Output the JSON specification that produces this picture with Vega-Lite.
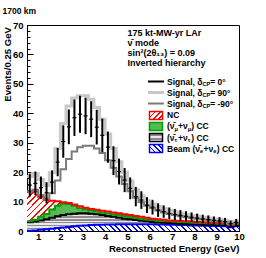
{
"$schema":"https://vega.github.io/schema/vega-lite/v6.json",
"width":212,"height":206,
"autosize":{"type":"none"},
"padding":{"left":27,"top":25,"right":27,"bottom":27},
"background":"#ffffff",
"title":{"text":"1700 km","anchor":"start","font":"Liberation Sans","fontSize":8.5,"fontWeight":"bold","color":"#000","offset":5},
"config":{
 "view":{"stroke":"#000","strokeWidth":1},
 "axis":{"labelFont":"Liberation Sans","labelFontWeight":"bold","labelFontSize":9.5,"labelColor":"#000","titleFont":"Liberation Sans","titleFontWeight":"bold","titleFontSize":9.6,"titleColor":"#000","tickColor":"#000","tickWidth":1,"domain":false,"grid":false},
 "text":{"font":"Liberation Sans","fontWeight":"bold","fontSize":9,"color":"#000","align":"left","baseline":"middle"}
},
"datasets":{
"h":[
{"lo":0.5,"c":0.625,"d_beam":0.1,"c_tau":2.9,"b_numu":0.3,"a_nc":10.1,"s0":15.6,"s90":18.5,"sm90":13.5,"e":3.9},
{"lo":0.75,"c":0.875,"d_beam":0.2,"c_tau":3.0,"b_numu":0.6,"a_nc":9.6,"s0":16.2,"s90":19.5,"sm90":14.0,"e":4.0},
{"lo":1.0,"c":1.125,"d_beam":0.4,"c_tau":3.2,"b_numu":1.2,"a_nc":6.8,"s0":14.7,"s90":17.5,"sm90":12.2,"e":3.8},
{"lo":1.25,"c":1.375,"d_beam":0.6,"c_tau":3.4,"b_numu":1.8,"a_nc":4.8,"s0":13.0,"s90":15.5,"sm90":11.0,"e":3.6},
{"lo":1.5,"c":1.625,"d_beam":0.8,"c_tau":3.7,"b_numu":2.8,"a_nc":3.0,"s0":16.6,"s90":19.8,"sm90":12.8,"e":4.0},
{"lo":1.75,"c":1.875,"d_beam":1.0,"c_tau":4.0,"b_numu":3.6,"a_nc":1.5,"s0":23.4,"s90":28.0,"sm90":17.2,"e":4.8},
{"lo":2.0,"c":2.125,"d_beam":1.2,"c_tau":4.2,"b_numu":3.9,"a_nc":0.5,"s0":30.4,"s90":36.5,"sm90":21.0,"e":5.5},
{"lo":2.25,"c":2.375,"d_beam":1.4,"c_tau":4.3,"b_numu":3.5,"a_nc":0.3,"s0":35.4,"s90":42.5,"sm90":24.5,"e":5.9},
{"lo":2.5,"c":2.625,"d_beam":1.6,"c_tau":4.3,"b_numu":2.7,"a_nc":0.4,"s0":38.5,"s90":45.2,"sm90":27.0,"e":6.2},
{"lo":2.75,"c":2.875,"d_beam":1.8,"c_tau":4.2,"b_numu":1.7,"a_nc":0.7,"s0":39.7,"s90":46.0,"sm90":28.5,"e":6.3},
{"lo":3.0,"c":3.125,"d_beam":1.9,"c_tau":4.1,"b_numu":1.3,"a_nc":0.6,"s0":39.1,"s90":46.0,"sm90":29.0,"e":6.2},
{"lo":3.25,"c":3.375,"d_beam":2.0,"c_tau":3.9,"b_numu":1.1,"a_nc":0.5,"s0":38.0,"s90":44.8,"sm90":29.0,"e":6.1},
{"lo":3.5,"c":3.625,"d_beam":2.1,"c_tau":3.6,"b_numu":1.0,"a_nc":0.5,"s0":35.3,"s90":42.0,"sm90":28.0,"e":5.9},
{"lo":3.75,"c":3.875,"d_beam":2.1,"c_tau":3.3,"b_numu":0.9,"a_nc":0.6,"s0":32.5,"s90":38.0,"sm90":26.5,"e":5.7},
{"lo":4.0,"c":4.125,"d_beam":2.2,"c_tau":2.9,"b_numu":0.9,"a_nc":0.6,"s0":28.5,"s90":33.0,"sm90":24.0,"e":5.3},
{"lo":4.25,"c":4.375,"d_beam":2.2,"c_tau":2.6,"b_numu":0.9,"a_nc":0.6,"s0":23.9,"s90":28.0,"sm90":21.5,"e":4.9},
{"lo":4.5,"c":4.625,"d_beam":2.3,"c_tau":2.2,"b_numu":0.9,"a_nc":0.6,"s0":20.2,"s90":23.5,"sm90":18.5,"e":4.4},
{"lo":4.75,"c":4.875,"d_beam":2.3,"c_tau":1.9,"b_numu":0.9,"a_nc":0.6,"s0":17.3,"s90":20.0,"sm90":16.0,"e":4.1},
{"lo":5.0,"c":5.125,"d_beam":2.3,"c_tau":1.7,"b_numu":0.8,"a_nc":0.6,"s0":14.5,"s90":17.0,"sm90":13.5,"e":3.7},
{"lo":5.25,"c":5.375,"d_beam":2.3,"c_tau":1.4,"b_numu":0.8,"a_nc":0.6,"s0":11.7,"s90":14.0,"sm90":11.3,"e":3.3},
{"lo":5.5,"c":5.625,"d_beam":2.3,"c_tau":1.2,"b_numu":0.7,"a_nc":0.6,"s0":10.5,"s90":12.0,"sm90":9.8,"e":3.0},
{"lo":5.75,"c":5.875,"d_beam":2.3,"c_tau":1.0,"b_numu":0.6,"a_nc":0.6,"s0":8.8,"s90":10.3,"sm90":8.6,"e":2.7},
{"lo":6.0,"c":6.125,"d_beam":2.3,"c_tau":0.8,"b_numu":0.6,"a_nc":0.5,"s0":8.1,"s90":9.2,"sm90":7.7,"e":2.5},
{"lo":6.25,"c":6.375,"d_beam":2.2,"c_tau":0.7,"b_numu":0.6,"a_nc":0.5,"s0":7.1,"s90":8.3,"sm90":7.0,"e":2.3},
{"lo":6.5,"c":6.625,"d_beam":2.2,"c_tau":0.6,"b_numu":0.6,"a_nc":0.4,"s0":6.6,"s90":7.6,"sm90":6.3,"e":2.1},
{"lo":6.75,"c":6.875,"d_beam":2.1,"c_tau":0.6,"b_numu":0.6,"a_nc":0.3,"s0":6.0,"s90":7.0,"sm90":5.8,"e":2.0},
{"lo":7.0,"c":7.125,"d_beam":2.1,"c_tau":0.5,"b_numu":0.6,"a_nc":0.3,"s0":5.6,"s90":6.5,"sm90":5.4,"e":1.9},
{"lo":7.25,"c":7.375,"d_beam":2.0,"c_tau":0.5,"b_numu":0.6,"a_nc":0.3,"s0":5.3,"s90":6.0,"sm90":5.0,"e":1.8},
{"lo":7.5,"c":7.625,"d_beam":2.0,"c_tau":0.4,"b_numu":0.6,"a_nc":0.3,"s0":5.0,"s90":5.6,"sm90":4.7,"e":1.7},
{"lo":7.75,"c":7.875,"d_beam":1.9,"c_tau":0.4,"b_numu":0.6,"a_nc":0.3,"s0":4.7,"s90":5.3,"sm90":4.4,"e":1.6},
{"lo":8.0,"c":8.125,"d_beam":1.9,"c_tau":0.4,"b_numu":0.5,"a_nc":0.3,"s0":4.4,"s90":5.0,"sm90":4.2,"e":1.5},
{"lo":8.25,"c":8.375,"d_beam":1.8,"c_tau":0.4,"b_numu":0.5,"a_nc":0.3,"s0":4.1,"s90":4.7,"sm90":3.9,"e":1.45},
{"lo":8.5,"c":8.625,"d_beam":1.8,"c_tau":0.3,"b_numu":0.5,"a_nc":0.3,"s0":3.9,"s90":4.4,"sm90":3.7,"e":1.4},
{"lo":8.75,"c":8.875,"d_beam":1.7,"c_tau":0.4,"b_numu":0.5,"a_nc":0.2,"s0":3.6,"s90":4.1,"sm90":3.5,"e":1.35},
{"lo":9.0,"c":9.125,"d_beam":1.7,"c_tau":0.3,"b_numu":0.5,"a_nc":0.2,"s0":3.4,"s90":3.9,"sm90":3.3,"e":1.3},
{"lo":9.25,"c":9.375,"d_beam":1.6,"c_tau":0.4,"b_numu":0.5,"a_nc":0.1,"s0":3.2,"s90":3.6,"sm90":3.1,"e":1.25},
{"lo":9.5,"c":9.625,"d_beam":1.3,"c_tau":0.3,"b_numu":0.4,"a_nc":0.1,"s0":2.5,"s90":2.9,"sm90":2.4,"e":1.1},
{"lo":9.75,"c":9.875,"d_beam":1.6,"c_tau":0.3,"b_numu":0.6,"a_nc":0.1,"s0":2.9,"s90":3.3,"sm90":2.8,"e":1.2},
{"lo":10.0,"c":10.125,"d_beam":1.6,"c_tau":0.3,"b_numu":0.6,"a_nc":0.1,"s0":2.9,"s90":3.3,"sm90":2.8,"e":1.2}
],
"tb":[
{"t":"175 kt-MW-yr LAr","y":67.18},
{"t":"ν̄ mode","y":63.78},
{"t":"sin²(2θ₁₃) = 0.09","y":60.38},
{"t":"Inverted hierarchy","y":57.19}
],
"lg":[
{"k":"s0","y":50.8,"tx":6.773,"t":" = 0°"},
{"k":"s90","y":47.06,"tx":6.773,"t":" = 90°"},
{"k":"sm90","y":43.32,"tx":6.773,"t":" = -90°"},
{"k":"nc","y":39.25,"tx":6.773},
{"k":"numu","y":35.51,"tx":6.773,"a":"μ"},
{"k":"tau","y":31.77,"tx":6.773,"a":"τ"},
{"k":"beam","y":28.03,"tx":7.916,"a":"e"}
]
},
"data":{"name":"h"},
"layer":[
{
 "transform":[{"fold":["d_beam","c_tau","b_numu","a_nc"],"as":["comp","v"]}],
 "mark":{"type":"area","interpolate":"step-after","opacity":1},
 "encoding":{
  "x":{"field":"lo","type":"quantitative","scale":{"domain":[0.5,10],"nice":false,"zero":false},
   "axis":{"orient":"bottom","values":[1,2,3,4,5,6,7,8,9,10],"tickSize":-6,"labelPadding":6.5,"labelFlush":false,"labelOverlap":false,"labelBound":false,"title":"Reconstructed Energy (GeV)","titleX":212,"titleY":17.5,"titleAlign":"right","titleAnchor":"end","titleBaseline":"middle"}},
  "y":{"field":"v","type":"quantitative","stack":"zero","scale":{"domain":[0,70],"nice":false,"zero":false},
   "axis":{"orient":"left","values":[0,10,20,30,40,50,60,70],"tickSize":-6,"labelPadding":10,"labelFlush":false,"labelOverlap":false,"labelBound":false,"title":"Events/0.25 GeV","titleX":-19.5,"titleY":1.5,"titleAlign":"right","titleAngle":-90,"titleBaseline":"middle"}},
  "detail":{"field":"comp"},
  "fill":{"condition":[
   {"test":"datum.comp==='a_nc'","value":{"gradient":"linear","x1":0,"y1":0,"x2":1.1298,"y2":0.1785,"stops":[
{"offset":0,"color":"#f00"},{"offset":0.0075,"color":"#f00"},{"offset":0.0075,"color":"#fff"},{"offset":0.025,"color":"#fff"},
{"offset":0.025,"color":"#f00"},{"offset":0.0325,"color":"#f00"},{"offset":0.0325,"color":"#fff"},{"offset":0.05,"color":"#fff"},
{"offset":0.05,"color":"#f00"},{"offset":0.0575,"color":"#f00"},{"offset":0.0575,"color":"#fff"},{"offset":0.075,"color":"#fff"},
{"offset":0.075,"color":"#f00"},{"offset":0.0825,"color":"#f00"},{"offset":0.0825,"color":"#fff"},{"offset":0.1,"color":"#fff"},
{"offset":0.1,"color":"#f00"},{"offset":0.1075,"color":"#f00"},{"offset":0.1075,"color":"#fff"},{"offset":0.125,"color":"#fff"},
{"offset":0.125,"color":"#f00"},{"offset":0.1325,"color":"#f00"},{"offset":0.1325,"color":"#fff"},{"offset":0.15,"color":"#fff"},
{"offset":0.15,"color":"#f00"},{"offset":0.1575,"color":"#f00"},{"offset":0.1575,"color":"#fff"},{"offset":0.175,"color":"#fff"},
{"offset":0.175,"color":"#f00"},{"offset":0.1825,"color":"#f00"},{"offset":0.1825,"color":"#fff"},{"offset":0.2,"color":"#fff"},
{"offset":0.2,"color":"#f00"},{"offset":0.2075,"color":"#f00"},{"offset":0.2075,"color":"#fff"},{"offset":0.225,"color":"#fff"},
{"offset":0.225,"color":"#f00"},{"offset":0.2325,"color":"#f00"},{"offset":0.2325,"color":"#fff"},{"offset":0.25,"color":"#fff"},
{"offset":0.25,"color":"#f00"},{"offset":0.2575,"color":"#f00"},{"offset":0.2575,"color":"#fff"},{"offset":0.275,"color":"#fff"},
{"offset":0.275,"color":"#f00"},{"offset":0.2825,"color":"#f00"},{"offset":0.2825,"color":"#fff"},{"offset":0.3,"color":"#fff"},
{"offset":0.3,"color":"#f00"},{"offset":0.3075,"color":"#f00"},{"offset":0.3075,"color":"#fff"},{"offset":0.325,"color":"#fff"},
{"offset":0.325,"color":"#f00"},{"offset":0.3325,"color":"#f00"},{"offset":0.3325,"color":"#fff"},{"offset":0.35,"color":"#fff"},
{"offset":0.35,"color":"#f00"},{"offset":0.3575,"color":"#f00"},{"offset":0.3575,"color":"#fff"},{"offset":0.375,"color":"#fff"},
{"offset":0.375,"color":"#f00"},{"offset":0.3825,"color":"#f00"},{"offset":0.3825,"color":"#fff"},{"offset":0.4,"color":"#fff"},
{"offset":0.4,"color":"#f00"},{"offset":0.4075,"color":"#f00"},{"offset":0.4075,"color":"#fff"},{"offset":0.425,"color":"#fff"},
{"offset":0.425,"color":"#f00"},{"offset":0.4325,"color":"#f00"},{"offset":0.4325,"color":"#fff"},{"offset":0.45,"color":"#fff"},
{"offset":0.45,"color":"#f00"},{"offset":0.4575,"color":"#f00"},{"offset":0.4575,"color":"#fff"},{"offset":0.475,"color":"#fff"},
{"offset":0.475,"color":"#f00"},{"offset":0.4825,"color":"#f00"},{"offset":0.4825,"color":"#fff"},{"offset":0.5,"color":"#fff"},
{"offset":0.5,"color":"#f00"},{"offset":0.5075,"color":"#f00"},{"offset":0.5075,"color":"#fff"},{"offset":0.525,"color":"#fff"},
{"offset":0.525,"color":"#f00"},{"offset":0.5325,"color":"#f00"},{"offset":0.5325,"color":"#fff"},{"offset":0.55,"color":"#fff"},
{"offset":0.55,"color":"#f00"},{"offset":0.5575,"color":"#f00"},{"offset":0.5575,"color":"#fff"},{"offset":0.575,"color":"#fff"},
{"offset":0.575,"color":"#f00"},{"offset":0.5825,"color":"#f00"},{"offset":0.5825,"color":"#fff"},{"offset":0.6,"color":"#fff"},
{"offset":0.6,"color":"#f00"},{"offset":0.6075,"color":"#f00"},{"offset":0.6075,"color":"#fff"},{"offset":0.625,"color":"#fff"},
{"offset":0.625,"color":"#f00"},{"offset":0.6325,"color":"#f00"},{"offset":0.6325,"color":"#fff"},{"offset":0.65,"color":"#fff"},
{"offset":0.65,"color":"#f00"},{"offset":0.6575,"color":"#f00"},{"offset":0.6575,"color":"#fff"},{"offset":0.675,"color":"#fff"},
{"offset":0.675,"color":"#f00"},{"offset":0.6825,"color":"#f00"},{"offset":0.6825,"color":"#fff"},{"offset":0.7,"color":"#fff"},
{"offset":0.7,"color":"#f00"},{"offset":0.7075,"color":"#f00"},{"offset":0.7075,"color":"#fff"},{"offset":0.725,"color":"#fff"},
{"offset":0.725,"color":"#f00"},{"offset":0.7325,"color":"#f00"},{"offset":0.7325,"color":"#fff"},{"offset":0.75,"color":"#fff"},
{"offset":0.75,"color":"#f00"},{"offset":0.7575,"color":"#f00"},{"offset":0.7575,"color":"#fff"},{"offset":0.775,"color":"#fff"},
{"offset":0.775,"color":"#f00"},{"offset":0.7825,"color":"#f00"},{"offset":0.7825,"color":"#fff"},{"offset":0.8,"color":"#fff"},
{"offset":0.8,"color":"#f00"},{"offset":0.8075,"color":"#f00"},{"offset":0.8075,"color":"#fff"},{"offset":0.825,"color":"#fff"},
{"offset":0.825,"color":"#f00"},{"offset":0.8325,"color":"#f00"},{"offset":0.8325,"color":"#fff"},{"offset":0.85,"color":"#fff"},
{"offset":0.85,"color":"#f00"},{"offset":0.8575,"color":"#f00"},{"offset":0.8575,"color":"#fff"},{"offset":0.875,"color":"#fff"},
{"offset":0.875,"color":"#f00"},{"offset":0.8825,"color":"#f00"},{"offset":0.8825,"color":"#fff"},{"offset":0.9,"color":"#fff"},
{"offset":0.9,"color":"#f00"},{"offset":0.9075,"color":"#f00"},{"offset":0.9075,"color":"#fff"},{"offset":0.925,"color":"#fff"},
{"offset":0.925,"color":"#f00"},{"offset":0.9325,"color":"#f00"},{"offset":0.9325,"color":"#fff"},{"offset":0.95,"color":"#fff"},
{"offset":0.95,"color":"#f00"},{"offset":0.9575,"color":"#f00"},{"offset":0.9575,"color":"#fff"},{"offset":0.975,"color":"#fff"},
{"offset":0.975,"color":"#f00"},{"offset":0.9825,"color":"#f00"},{"offset":0.9825,"color":"#fff"},{"offset":1,"color":"#fff"}
   ]}},
   {"test":"datum.comp==='c_tau'","value":{"gradient":"linear","x1":0,"y1":0,"x2":0,"y2":1,"stops":[
{"offset":0,"color":"#8c8c8c"},{"offset":0.0833,"color":"#8c8c8c"},{"offset":0.0833,"color":"#e8e8e8"},{"offset":0.1667,"color":"#e8e8e8"},
{"offset":0.1667,"color":"#8c8c8c"},{"offset":0.25,"color":"#8c8c8c"},{"offset":0.25,"color":"#e8e8e8"},{"offset":0.3333,"color":"#e8e8e8"},
{"offset":0.3333,"color":"#8c8c8c"},{"offset":0.4167,"color":"#8c8c8c"},{"offset":0.4167,"color":"#e8e8e8"},{"offset":0.5,"color":"#e8e8e8"},
{"offset":0.5,"color":"#8c8c8c"},{"offset":0.5833,"color":"#8c8c8c"},{"offset":0.5833,"color":"#e8e8e8"},{"offset":0.6667,"color":"#e8e8e8"},
{"offset":0.6667,"color":"#8c8c8c"},{"offset":0.75,"color":"#8c8c8c"},{"offset":0.75,"color":"#e8e8e8"},{"offset":0.8333,"color":"#e8e8e8"},
{"offset":0.8333,"color":"#8c8c8c"},{"offset":0.9167,"color":"#8c8c8c"},{"offset":0.9167,"color":"#e8e8e8"},{"offset":1,"color":"#e8e8e8"}
   ]}},
   {"test":"datum.comp==='d_beam'","value":{"gradient":"linear","x1":0,"y1":1,"x2":1.0309,"y2":0.9671,"stops":[
{"offset":0,"color":"#00f"},{"offset":0.0075,"color":"#00f"},{"offset":0.0075,"color":"#fff"},{"offset":0.025,"color":"#fff"},
{"offset":0.025,"color":"#00f"},{"offset":0.0325,"color":"#00f"},{"offset":0.0325,"color":"#fff"},{"offset":0.05,"color":"#fff"},
{"offset":0.05,"color":"#00f"},{"offset":0.0575,"color":"#00f"},{"offset":0.0575,"color":"#fff"},{"offset":0.075,"color":"#fff"},
{"offset":0.075,"color":"#00f"},{"offset":0.0825,"color":"#00f"},{"offset":0.0825,"color":"#fff"},{"offset":0.1,"color":"#fff"},
{"offset":0.1,"color":"#00f"},{"offset":0.1075,"color":"#00f"},{"offset":0.1075,"color":"#fff"},{"offset":0.125,"color":"#fff"},
{"offset":0.125,"color":"#00f"},{"offset":0.1325,"color":"#00f"},{"offset":0.1325,"color":"#fff"},{"offset":0.15,"color":"#fff"},
{"offset":0.15,"color":"#00f"},{"offset":0.1575,"color":"#00f"},{"offset":0.1575,"color":"#fff"},{"offset":0.175,"color":"#fff"},
{"offset":0.175,"color":"#00f"},{"offset":0.1825,"color":"#00f"},{"offset":0.1825,"color":"#fff"},{"offset":0.2,"color":"#fff"},
{"offset":0.2,"color":"#00f"},{"offset":0.2075,"color":"#00f"},{"offset":0.2075,"color":"#fff"},{"offset":0.225,"color":"#fff"},
{"offset":0.225,"color":"#00f"},{"offset":0.2325,"color":"#00f"},{"offset":0.2325,"color":"#fff"},{"offset":0.25,"color":"#fff"},
{"offset":0.25,"color":"#00f"},{"offset":0.2575,"color":"#00f"},{"offset":0.2575,"color":"#fff"},{"offset":0.275,"color":"#fff"},
{"offset":0.275,"color":"#00f"},{"offset":0.2825,"color":"#00f"},{"offset":0.2825,"color":"#fff"},{"offset":0.3,"color":"#fff"},
{"offset":0.3,"color":"#00f"},{"offset":0.3075,"color":"#00f"},{"offset":0.3075,"color":"#fff"},{"offset":0.325,"color":"#fff"},
{"offset":0.325,"color":"#00f"},{"offset":0.3325,"color":"#00f"},{"offset":0.3325,"color":"#fff"},{"offset":0.35,"color":"#fff"},
{"offset":0.35,"color":"#00f"},{"offset":0.3575,"color":"#00f"},{"offset":0.3575,"color":"#fff"},{"offset":0.375,"color":"#fff"},
{"offset":0.375,"color":"#00f"},{"offset":0.3825,"color":"#00f"},{"offset":0.3825,"color":"#fff"},{"offset":0.4,"color":"#fff"},
{"offset":0.4,"color":"#00f"},{"offset":0.4075,"color":"#00f"},{"offset":0.4075,"color":"#fff"},{"offset":0.425,"color":"#fff"},
{"offset":0.425,"color":"#00f"},{"offset":0.4325,"color":"#00f"},{"offset":0.4325,"color":"#fff"},{"offset":0.45,"color":"#fff"},
{"offset":0.45,"color":"#00f"},{"offset":0.4575,"color":"#00f"},{"offset":0.4575,"color":"#fff"},{"offset":0.475,"color":"#fff"},
{"offset":0.475,"color":"#00f"},{"offset":0.4825,"color":"#00f"},{"offset":0.4825,"color":"#fff"},{"offset":0.5,"color":"#fff"},
{"offset":0.5,"color":"#00f"},{"offset":0.5075,"color":"#00f"},{"offset":0.5075,"color":"#fff"},{"offset":0.525,"color":"#fff"},
{"offset":0.525,"color":"#00f"},{"offset":0.5325,"color":"#00f"},{"offset":0.5325,"color":"#fff"},{"offset":0.55,"color":"#fff"},
{"offset":0.55,"color":"#00f"},{"offset":0.5575,"color":"#00f"},{"offset":0.5575,"color":"#fff"},{"offset":0.575,"color":"#fff"},
{"offset":0.575,"color":"#00f"},{"offset":0.5825,"color":"#00f"},{"offset":0.5825,"color":"#fff"},{"offset":0.6,"color":"#fff"},
{"offset":0.6,"color":"#00f"},{"offset":0.6075,"color":"#00f"},{"offset":0.6075,"color":"#fff"},{"offset":0.625,"color":"#fff"},
{"offset":0.625,"color":"#00f"},{"offset":0.6325,"color":"#00f"},{"offset":0.6325,"color":"#fff"},{"offset":0.65,"color":"#fff"},
{"offset":0.65,"color":"#00f"},{"offset":0.6575,"color":"#00f"},{"offset":0.6575,"color":"#fff"},{"offset":0.675,"color":"#fff"},
{"offset":0.675,"color":"#00f"},{"offset":0.6825,"color":"#00f"},{"offset":0.6825,"color":"#fff"},{"offset":0.7,"color":"#fff"},
{"offset":0.7,"color":"#00f"},{"offset":0.7075,"color":"#00f"},{"offset":0.7075,"color":"#fff"},{"offset":0.725,"color":"#fff"},
{"offset":0.725,"color":"#00f"},{"offset":0.7325,"color":"#00f"},{"offset":0.7325,"color":"#fff"},{"offset":0.75,"color":"#fff"},
{"offset":0.75,"color":"#00f"},{"offset":0.7575,"color":"#00f"},{"offset":0.7575,"color":"#fff"},{"offset":0.775,"color":"#fff"},
{"offset":0.775,"color":"#00f"},{"offset":0.7825,"color":"#00f"},{"offset":0.7825,"color":"#fff"},{"offset":0.8,"color":"#fff"},
{"offset":0.8,"color":"#00f"},{"offset":0.8075,"color":"#00f"},{"offset":0.8075,"color":"#fff"},{"offset":0.825,"color":"#fff"},
{"offset":0.825,"color":"#00f"},{"offset":0.8325,"color":"#00f"},{"offset":0.8325,"color":"#fff"},{"offset":0.85,"color":"#fff"},
{"offset":0.85,"color":"#00f"},{"offset":0.8575,"color":"#00f"},{"offset":0.8575,"color":"#fff"},{"offset":0.875,"color":"#fff"},
{"offset":0.875,"color":"#00f"},{"offset":0.8825,"color":"#00f"},{"offset":0.8825,"color":"#fff"},{"offset":0.9,"color":"#fff"},
{"offset":0.9,"color":"#00f"},{"offset":0.9075,"color":"#00f"},{"offset":0.9075,"color":"#fff"},{"offset":0.925,"color":"#fff"},
{"offset":0.925,"color":"#00f"},{"offset":0.9325,"color":"#00f"},{"offset":0.9325,"color":"#fff"},{"offset":0.95,"color":"#fff"},
{"offset":0.95,"color":"#00f"},{"offset":0.9575,"color":"#00f"},{"offset":0.9575,"color":"#fff"},{"offset":0.975,"color":"#fff"},
{"offset":0.975,"color":"#00f"},{"offset":0.9825,"color":"#00f"},{"offset":0.9825,"color":"#fff"},{"offset":1,"color":"#fff"}
   ]}}
  ],"value":"#55bb55"}
 }
},
{
 "transform":[{"fold":["d_beam","c_tau","b_numu","a_nc"],"as":["comp","v"]}],
 "mark":{"type":"line","interpolate":"step-after","strokeWidth":2},
 "encoding":{
  "x":{"field":"lo","type":"quantitative","scale":{"domain":[0.5,10],"nice":false,"zero":false},
   "axis":{"orient":"bottom","values":[0.6,0.8,1,1.2,1.4,1.6,1.8,2,2.2,2.4,2.6,2.8,3,3.2,3.4,3.6,3.8,4,4.2,4.4,4.6,4.8,5,5.2,5.4,5.6,5.8,6,6.2,6.4,6.6,6.8,7,7.2,7.4,7.6,7.8,8,8.2,8.4,8.6,8.8,9,9.2,9.4,9.6,9.8,10],"tickSize":-3,"labels":false,"title":null}},
  "y":{"field":"v","type":"quantitative","stack":"zero","scale":{"domain":[0,70],"nice":false,"zero":false},
   "axis":{"orient":"left","values":[0,2,4,6,8,10,12,14,16,18,20,22,24,26,28,30,32,34,36,38,40,42,44,46,48,50,52,54,56,58,60,62,64,66,68,70],"tickSize":-3,"labels":false,"title":null}},
  "detail":{"field":"comp"},
  "stroke":{"condition":[{"test":"datum.comp==='a_nc'","value":"#ff0000"},{"test":"datum.comp==='b_numu'","value":"#00a000"},{"test":"datum.comp==='d_beam'","value":"#0000ff"}],"value":"#000000"}
 }
},
{
 "mark":{"type":"line","interpolate":"step-after","strokeWidth":3,"color":"#c8c8c8"},
 "encoding":{
  "x":{"field":"lo","type":"quantitative","scale":{"domain":[0.5,10],"nice":false,"zero":false},"axis":null},
  "y":{"field":"s90","type":"quantitative","scale":{"domain":[0,70],"nice":false,"zero":false},"axis":null}
 }
},
{
 "mark":{"type":"line","interpolate":"step-after","strokeWidth":2,"color":"#7a7a7a"},
 "encoding":{
  "x":{"field":"lo","type":"quantitative","scale":{"domain":[0.5,10],"nice":false,"zero":false},"axis":null},
  "y":{"field":"sm90","type":"quantitative","scale":{"domain":[0,70],"nice":false,"zero":false},"axis":null}
 }
},
{
 "transform":[{"filter":"datum.lo < 10"}],
 "mark":{"type":"errorbar","thickness":2,"color":"#000"},
 "encoding":{
  "x":{"field":"c","type":"quantitative","scale":{"domain":[0.5,10],"nice":false,"zero":false},"axis":null},
  "y":{"field":"s0","type":"quantitative","scale":{"domain":[0,70],"nice":false,"zero":false},"axis":null},
  "yError":{"field":"e"}
 }
},
{
 "transform":[{"filter":"datum.lo < 10"}],
 "mark":{"type":"tick","orient":"horizontal","size":4,"thickness":1.2,"color":"#000","opacity":1},
 "encoding":{
  "x":{"field":"c","type":"quantitative","scale":{"domain":[0.5,10],"nice":false,"zero":false},"axis":null},
  "y":{"field":"s0","type":"quantitative","scale":{"domain":[0,70],"nice":false,"zero":false},"axis":null}
 }
},
{
 "data":{"name":"tb"},
 "mark":{"type":"text"},
 "encoding":{
  "x":{"datum":5.003,"type":"quantitative","scale":{"domain":[0.5,10],"nice":false,"zero":false},"axis":null},
  "y":{"field":"y","type":"quantitative","scale":{"domain":[0,70],"nice":false,"zero":false},"axis":null},
  "text":{"field":"t"}
 }
},
{
 "data":{"name":"lg"},
 "transform":[{"filter":"datum.t != null"}],
 "mark":{"type":"point","shape":"M-1,0H1","size":256,"filled":false,"opacity":1},
 "encoding":{
  "x":{"datum":6.281,"type":"quantitative","scale":{"domain":[0.5,10],"nice":false,"zero":false},"axis":null},
  "y":{"field":"y","type":"quantitative","scale":{"domain":[0,70],"nice":false,"zero":false},"axis":null},
  "stroke":{"condition":[{"test":"datum.k==='s90'","value":"#c8c8c8"},{"test":"datum.k==='sm90'","value":"#7a7a7a"}],"value":"#000000"},
  "strokeWidth":{"condition":{"test":"datum.k==='s90'","value":3},"value":2}
 }
},
{
 "data":{"name":"lg"},
 "transform":[{"filter":"datum.t == null"}],
 "mark":{"type":"point","shape":"M-1.625,-1H1.625V1H-1.625Z","size":64,"filled":true,"opacity":1,"strokeWidth":1.5},
 "encoding":{
  "x":{"datum":6.281,"type":"quantitative","scale":{"domain":[0.5,10],"nice":false,"zero":false},"axis":null},
  "y":{"field":"y","type":"quantitative","scale":{"domain":[0,70],"nice":false,"zero":false},"axis":null},
  "stroke":{"condition":[{"test":"datum.k==='nc'","value":"#ff0000"},{"test":"datum.k==='numu'","value":"#00a000"},{"test":"datum.k==='beam'","value":"#0000ff"}],"value":"#000000"},
  "fill":{"condition":[
   {"test":"datum.k==='nc'","value":{"gradient":"linear","x1":0,"y1":0,"x2":1.1717,"y2":0.721,"stops":[
{"offset":0,"color":"#f00"},{"offset":0.08,"color":"#f00"},{"offset":0.08,"color":"#fff"},{"offset":0.25,"color":"#fff"},
{"offset":0.25,"color":"#f00"},{"offset":0.33,"color":"#f00"},{"offset":0.33,"color":"#fff"},{"offset":0.5,"color":"#fff"},
{"offset":0.5,"color":"#f00"},{"offset":0.58,"color":"#f00"},{"offset":0.58,"color":"#fff"},{"offset":0.75,"color":"#fff"},
{"offset":0.75,"color":"#f00"},{"offset":0.83,"color":"#f00"},{"offset":0.83,"color":"#fff"},{"offset":1,"color":"#fff"}]}},
   {"test":"datum.k==='beam'","value":{"gradient":"linear","x1":0,"y1":1,"x2":1.1717,"y2":0.279,"stops":[
{"offset":0,"color":"#00f"},{"offset":0.08,"color":"#00f"},{"offset":0.08,"color":"#fff"},{"offset":0.25,"color":"#fff"},
{"offset":0.25,"color":"#00f"},{"offset":0.33,"color":"#00f"},{"offset":0.33,"color":"#fff"},{"offset":0.5,"color":"#fff"},
{"offset":0.5,"color":"#00f"},{"offset":0.58,"color":"#00f"},{"offset":0.58,"color":"#fff"},{"offset":0.75,"color":"#fff"},
{"offset":0.75,"color":"#00f"},{"offset":0.83,"color":"#00f"},{"offset":0.83,"color":"#fff"},{"offset":1,"color":"#fff"}]}},
   {"test":"datum.k==='tau'","value":{"gradient":"linear","x1":0,"y1":0,"x2":0,"y2":1,"stops":[
{"offset":0,"color":"#8c8c8c"},{"offset":0.25,"color":"#8c8c8c"},{"offset":0.25,"color":"#e8e8e8"},{"offset":0.5,"color":"#e8e8e8"},
{"offset":0.5,"color":"#8c8c8c"},{"offset":0.75,"color":"#8c8c8c"},{"offset":0.75,"color":"#e8e8e8"},{"offset":1,"color":"#e8e8e8"}]}}
  ],"value":"#55bb55"}
 }
},
{
 "data":{"name":"lg"},
 "transform":[{"filter":"datum.t != null"}],
 "mark":{"type":"text","text":"Signal, δ","fontSize":8.5},
 "encoding":{
  "x":{"field":"tx","type":"quantitative","scale":{"domain":[0.5,10],"nice":false,"zero":false},"axis":null},
  "y":{"field":"y","type":"quantitative","scale":{"domain":[0,70],"nice":false,"zero":false},"axis":null}
 }
},
{
 "data":{"name":"lg"},
 "transform":[{"filter":"datum.t != null"}],
 "mark":{"type":"text","text":"CP","fontSize":5.7,"dx":35.4,"dy":2.5},
 "encoding":{
  "x":{"field":"tx","type":"quantitative","scale":{"domain":[0.5,10],"nice":false,"zero":false},"axis":null},
  "y":{"field":"y","type":"quantitative","scale":{"domain":[0,70],"nice":false,"zero":false},"axis":null}
 }
},
{
 "data":{"name":"lg"},
 "transform":[{"filter":"datum.t != null"}],
 "mark":{"type":"text","fontSize":8.5,"dx":43.2},
 "encoding":{
  "x":{"field":"tx","type":"quantitative","scale":{"domain":[0.5,10],"nice":false,"zero":false},"axis":null},
  "y":{"field":"y","type":"quantitative","scale":{"domain":[0,70],"nice":false,"zero":false},"axis":null},
  "text":{"field":"t"}
 }
},
{
 "data":{"name":"lg"},
 "transform":[{"filter":"datum.k === 'nc'"}],
 "mark":{"type":"text","text":"NC","fontSize":8.5},
 "encoding":{
  "x":{"field":"tx","type":"quantitative","scale":{"domain":[0.5,10],"nice":false,"zero":false},"axis":null},
  "y":{"field":"y","type":"quantitative","scale":{"domain":[0,70],"nice":false,"zero":false},"axis":null}
 }
},
{
 "data":{"name":"lg"},
 "transform":[{"filter":"datum.a != null"}],
 "mark":{"type":"text","text":"(ν̄","fontSize":8.5},
 "encoding":{
  "x":{"field":"tx","type":"quantitative","scale":{"domain":[0.5,10],"nice":false,"zero":false},"axis":null},
  "y":{"field":"y","type":"quantitative","scale":{"domain":[0,70],"nice":false,"zero":false},"axis":null}
 }
},
{
 "data":{"name":"lg"},
 "transform":[{"filter":"datum.a != null"}],
 "mark":{"type":"text","fontSize":5.7,"dx":7.6,"dy":2.5},
 "encoding":{
  "x":{"field":"tx","type":"quantitative","scale":{"domain":[0.5,10],"nice":false,"zero":false},"axis":null},
  "y":{"field":"y","type":"quantitative","scale":{"domain":[0,70],"nice":false,"zero":false},"axis":null},
  "text":{"field":"a"}
 }
},
{
 "data":{"name":"lg"},
 "transform":[{"filter":"datum.a != null"}],
 "mark":{"type":"text","text":"+ν","fontSize":8.5,"dx":11.0},
 "encoding":{
  "x":{"field":"tx","type":"quantitative","scale":{"domain":[0.5,10],"nice":false,"zero":false},"axis":null},
  "y":{"field":"y","type":"quantitative","scale":{"domain":[0,70],"nice":false,"zero":false},"axis":null}
 }
},
{
 "data":{"name":"lg"},
 "transform":[{"filter":"datum.a != null"}],
 "mark":{"type":"text","fontSize":5.7,"dx":20.8,"dy":2.5},
 "encoding":{
  "x":{"field":"tx","type":"quantitative","scale":{"domain":[0.5,10],"nice":false,"zero":false},"axis":null},
  "y":{"field":"y","type":"quantitative","scale":{"domain":[0,70],"nice":false,"zero":false},"axis":null},
  "text":{"field":"a"}
 }
},
{
 "data":{"name":"lg"},
 "transform":[{"filter":"datum.a != null"}],
 "mark":{"type":"text","text":") CC","fontSize":8.5,"dx":24.3},
 "encoding":{
  "x":{"field":"tx","type":"quantitative","scale":{"domain":[0.5,10],"nice":false,"zero":false},"axis":null},
  "y":{"field":"y","type":"quantitative","scale":{"domain":[0,70],"nice":false,"zero":false},"axis":null}
 }
},
{
 "data":{"name":"lg"},
 "transform":[{"filter":"datum.k === 'beam'"}],
 "mark":{"type":"text","text":"Beam","fontSize":8.5,"dx":-25.5},
 "encoding":{
  "x":{"field":"tx","type":"quantitative","scale":{"domain":[0.5,10],"nice":false,"zero":false},"axis":null},
  "y":{"field":"y","type":"quantitative","scale":{"domain":[0,70],"nice":false,"zero":false},"axis":null}
 }
}
],
"resolve":{"axis":{"x":"independent","y":"independent"}}
}
